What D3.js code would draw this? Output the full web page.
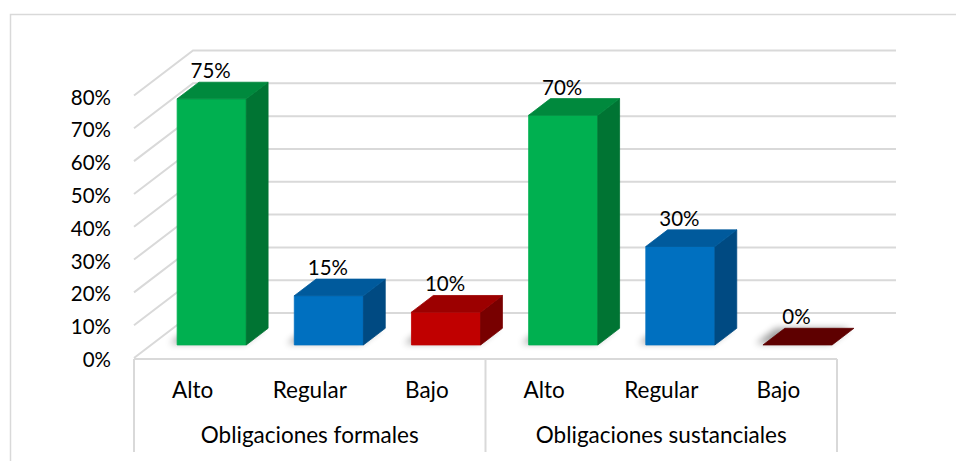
<!DOCTYPE html>
<html>
<head>
<meta charset="utf-8">
<script src="https://cdn.jsdelivr.net/npm/d3@7"></script>
<style>
  html, body { margin: 0; padding: 0; background: #ffffff; }
  svg { display: block; }
  text { font-family: Lato, "Open Sans", sans-serif; fill: #000; }
</style>
</head>
<body>
<div id="chart"></div>
<script>
// Grouped 3D column chart: level of compliance per obligation type
const groups = ["Obligaciones formales", "Obligaciones sustanciales"];
const levels = ["Alto", "Regular", "Bajo"];
const formales = [0.75, 0.15, 0.10];
const sustanciales = [0.70, 0.30, 0.00];
const yTicks = [0, 0.1, 0.2, 0.3, 0.4, 0.5, 0.6, 0.7, 0.8];

// face colours per level: front, top, side
const levelColors = {
  "Alto":    { front: "#00b050", top: "#00893d", side: "#007433" },
  "Regular": { front: "#0070c0", top: "#005a9c", side: "#004a82" },
  "Bajo":    { front: "#c00000", top: "#9c0000", side: "#780000", flat: "#5e0000" }
};

const rows = [];
groups.forEach((g, gi) => {
  const vals = gi === 0 ? formales : sustanciales;
  levels.forEach((l, li) => rows.push({ group: g, level: l, key: g + "|" + l, value: vals[li] }));
});

const W = 956, H = 461;
const svg = d3.select("#chart").append("svg").attr("width", W).attr("height", H);

// chart frame
svg.append("rect").attr("x", 10.5).attr("y", 14.5).attr("width", 960).attr("height", 470)
  .attr("fill", "none").attr("stroke", "#d9d9d9").attr("stroke-width", 1.5);

const left = 134, right = 837;
const x = d3.scaleBand().domain(rows.map(d => d.key)).range([left, right])
  .paddingInner(0.41).paddingOuter(0.205);
const y = d3.scaleLinear().domain([0, 0.8]).range([358, 95.5]);

// oblique depth projection
const DX = 59, DY = 45;
const P = (xf, v, z) => [xf + z * DX, y(v) - z * DY];
const poly = pts => "M" + pts.map(p => p.join(",")).join("L") + "Z";

const grid = "#d9d9d9";
// back wall and side wall gridlines
const gGrid = svg.append("g").attr("stroke", grid).attr("stroke-width", 2).attr("fill", "none");
yTicks.forEach(v => {
  const a = P(left, v, 0), b = P(left, v, 1), c = P(right, v, 1);
  gGrid.append("path").attr("d", `M${a}L${b}L${c}`);
});
// floor front edge
gGrid.append("line").attr("x1", left).attr("x2", right).attr("y1", y(0) + 1).attr("y2", y(0) + 1);

// category axis separators
const sepX = [left, x(rows[3].key) - x.step() * x.paddingInner() / 2, right];
sepX.forEach(sx => {
  gGrid.append("line").attr("x1", sx).attr("x2", sx).attr("y1", y(0) + 1).attr("y2", 452);
});

// y axis labels
svg.append("g").selectAll("text").data(yTicks).join("text")
  .attr("x", 111).attr("y", v => y(v) + 1)
  .attr("text-anchor", "end").attr("dominant-baseline", "central")
  .style("font-size", "20.5px")
  .text(d3.format(".0%"));

// soft floor shadows
const defs = svg.append("defs");
defs.append("filter").attr("id", "soft").attr("x", "-50%").attr("y", "-50%").attr("width", "200%").attr("height", "200%")
  .append("feGaussianBlur").attr("stdDeviation", 3.5);

const z1 = 0.29, z2 = 0.66;
const shiftX = 2;
const bx0 = d => x(d.key) + shiftX;
const bx1 = d => x(d.key) + shiftX + x.bandwidth();

svg.append("g").selectAll("path").data(rows).join("path")
  .attr("d", d => {
    const x0 = bx0(d) - 9, x1 = bx1(d) - 4;
    return poly([P(x0, 0, z1 + 0.03), P(x1, 0, z1 + 0.03), P(x1, 0, z2), P(x0, 0, z2)]);
  })
  .attr("fill", "#000").attr("opacity", 0.38).attr("filter", "url(#soft)");

// bars
const bars = svg.append("g").selectAll("g").data(rows).join("g");
bars.each(function (d) {
  const g = d3.select(this);
  const c = levelColors[d.level];
  const x0 = bx0(d), x1 = bx1(d);
  const v = d.value;
  if (v > 0) {
    g.append("path").attr("d", poly([P(x0, 0, z1), P(x1, 0, z1), P(x1, v, z1), P(x0, v, z1)]))
      .attr("fill", c.front).attr("stroke", c.front).attr("stroke-width", 0.8).attr("stroke-linejoin", "round");
    g.append("path").attr("d", poly([P(x1, 0, z1), P(x1, 0, z2), P(x1, v, z2), P(x1, v, z1)]))
      .attr("fill", c.side).attr("stroke", c.side).attr("stroke-width", 0.8).attr("stroke-linejoin", "round");
  }
  g.append("path").attr("d", poly([P(x0, v, z1), P(x1, v, z1), P(x1, v, z2), P(x0, v, z2)]))
    .attr("fill", v > 0 ? c.top : c.flat).attr("stroke", v > 0 ? c.top : c.flat)
    .attr("stroke-width", 0.8).attr("stroke-linejoin", "round");
});

// value labels above each column
svg.append("g").selectAll("text").data(rows).join("text")
  .attr("x", d => P((bx0(d) + bx1(d)) / 2, d.value, z1)[0] - 1)
  .attr("y", d => P(0, d.value, z2)[1] - 4)
  .attr("text-anchor", "middle")
  .style("font-size", "20.5px")
  .text(d => d3.format(".0%")(d.value));

// category labels
svg.append("g").selectAll("text").data(rows).join("text")
  .attr("x", d => x(d.key) + x.bandwidth() / 2)
  .attr("y", 398)
  .attr("text-anchor", "middle")
  .style("font-size", "22.5px")
  .text(d => d.level);

// group labels
svg.append("g").selectAll("text").data(groups).join("text")
  .attr("x", (g, i) => (sepX[i] + sepX[i + 1]) / 2)
  .attr("y", 443)
  .attr("text-anchor", "middle")
  .style("font-size", "22.5px")
  .text(g => g);
</script>
</body>
</html>
